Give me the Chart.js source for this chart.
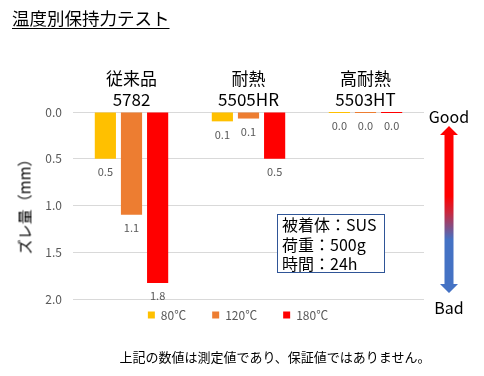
<!DOCTYPE html>
<html>
<head>
<meta charset="utf-8">
<script src="https://cdn.jsdelivr.net/npm/chart.js@4"></script>
<style>
  html, body { margin: 0; padding: 0; background: #fff; }
  body { width: 484px; height: 376px; position: relative; overflow: hidden;
         font-family: "Noto Sans CJK JP", "Noto Sans", sans-serif; color: #000; }
  #chart { position: absolute; left: 0; top: 0; }
  .abs { position: absolute; white-space: nowrap; }
  #title { left: 12px; top: 5px; font-size: 17.5px; text-decoration: underline; text-underline-offset: 3px; }
  #ytitle { left: 24px; top: 203px; font-size: 15px; transform: translate(-50%, -50%) rotate(-90deg); }
  #note { left: 0; width: 484px; text-align: center; padding-left: 66px; box-sizing: border-box; top: 347px; font-size: 13px; line-height: 20px; }
  #cond { left: 277px; top: 214px; width: 102px; height: 57px; border: 1px solid #2F5597; background: #fff;
          font-size: 16px; line-height: 19.5px; padding: 0 0 0 4px; box-sizing: content-box; }
  .gb { font-size: 16px; transform: translate(-50%, -50%); }
</style>
</head>
<body>
<canvas id="chart" width="484" height="376"></canvas>
<div id="title" class="abs">温度別保持力テスト</div>
<div id="ytitle" class="abs">ズレ量（mm）</div>
<div id="cond" class="abs">被着体：SUS<br>荷重：500g<br>時間：24h</div>
<svg class="abs" style="left:0;top:0" width="484" height="376">
  <defs>
    <linearGradient id="gbGrad" x1="0" y1="126" x2="0" y2="293" gradientUnits="userSpaceOnUse">
      <stop offset="0" stop-color="#FF0000"/>
      <stop offset="0.42" stop-color="#FF0000"/>
      <stop offset="0.52" stop-color="#C8283F"/>
      <stop offset="0.68" stop-color="#4472C4"/>
      <stop offset="1" stop-color="#4472C4"/>
    </linearGradient>
  </defs>
  <polygon fill="url(#gbGrad)" points="449,126 458,135 453.5,135 453.5,284 458,284 449,293 440,284 444.5,284 444.5,135 440,135"/>
</svg>
<div class="abs gb" style="left:449px;top:116px">Good</div>
<div class="abs gb" style="left:449px;top:307px">Bad</div>
<div id="note" class="abs">上記の数値は測定値であり、保証値ではありません。</div>

<script>
const categories = [['従来品', '5782'], ['耐熱', '5505HR'], ['高耐熱', '5503HT']];
const seriesNames = ['80℃', '120℃', '180℃'];
const seriesColors = ['#FFC000', '#ED7D31', '#FF0000'];
const values80 = [0.5, 0.1, 0.0];
const values120 = [1.1, 0.07, 0.0];
const values180 = [1.83, 0.5, 0.0];
const yTicks = [0, 0.5, 1.0, 1.5, 2.0];

const FONT = '"Noto Sans CJK JP", "Noto Sans", sans-serif';

const datasets = [values80, values120, values180].map((vals, i) => ({
    label: seriesNames[i],
    data: vals,
    backgroundColor: seriesColors[i],
    borderWidth: 0,
    minBarLength: 2,
    categoryPercentage: 0.67,
    barPercentage: 0.81
}));

// value labels under each bar
const barLabels = {
    id: 'barLabels',
    afterDatasetsDraw(chart) {
        const ctx = chart.ctx;
        ctx.save();
        ctx.font = '11px ' + FONT;
        ctx.fillStyle = '#595959';
        ctx.textAlign = 'center';
        ctx.textBaseline = 'middle';
        chart.data.datasets.forEach((ds, i) => {
            chart.getDatasetMeta(i).data.forEach((bar, j) => {
                const yEnd = Math.max(bar.y, bar.base);
                ctx.fillText(ds.data[j].toFixed(1), bar.x, yEnd + 13);
            });
        });
        ctx.restore();
    }
};

// legend row sits just under the plot and is centred a little left of it, as in the original
const legendShift = {
    id: 'legendShift',
    afterLayout(chart) {
        const lg = chart.legend;
        lg.left = 52;
        lg.right = chart.chartArea.right;
        lg.width = lg.right - lg.left;
        lg.top = chart.chartArea.bottom - 16;
    }
};

new Chart(document.getElementById('chart'), {
    type: 'bar',
    data: { labels: categories, datasets: datasets },
    plugins: [barLabels, legendShift],
    options: {
        responsive: false,
        animation: false,
        layout: { padding: { left: 0, right: 60, top: 0, bottom: 29 } },
        plugins: {
            legend: {
                position: 'bottom',
                labels: {
                    boxWidth: 7, boxHeight: 7, padding: 26,
                    color: '#595959', font: { family: FONT, size: 12 }
                }
            },
            tooltip: { enabled: false }
        },
        scales: {
            x: {
                position: 'top',
                grid: { display: false },
                border: { display: false },
                ticks: { color: '#000', padding: -6, font: { family: FONT, size: 17, lineHeight: 1.25 } },
                afterFit(s) { s.height = 112; }
            },
            y: {
                reverse: true,
                min: 0,
                max: 2,
                afterBuildTicks(s) { s.ticks = yTicks.map(v => ({ value: v })); },
                grid: { color: '#D9D9D9', drawTicks: false },
                border: { display: false },
                ticks: {
                    color: '#595959', padding: 11,
                    font: { family: FONT, size: 12 },
                    callback: v => Number(v).toFixed(1)
                },
                afterFit(s) { s.width = 73; }
            }
        }
    }
});
</script>
</body>
</html>
